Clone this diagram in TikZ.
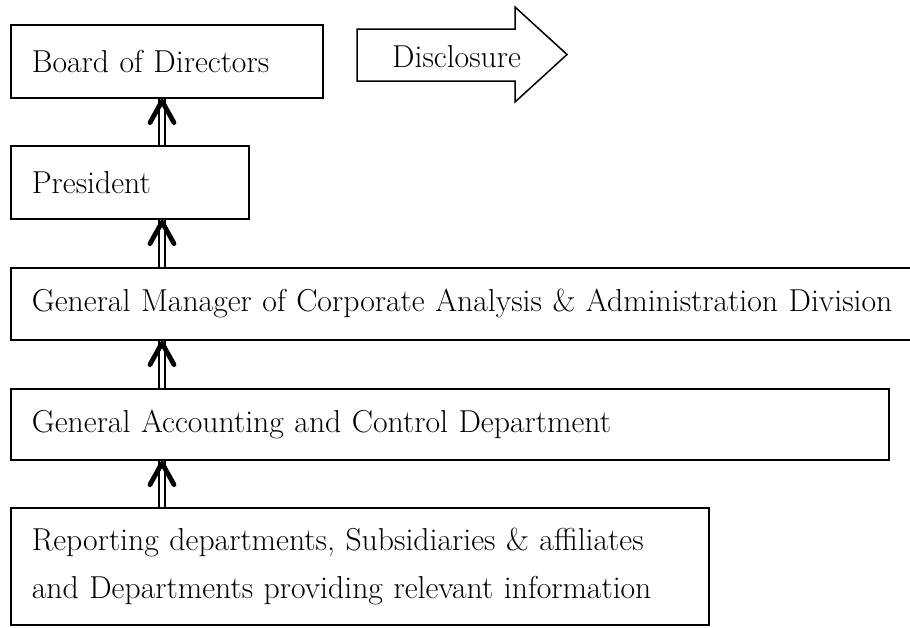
\documentclass[tikz,border=0pt]{standalone}
\usetikzlibrary{calc}
\newcommand\mainfnt{\fontsize{31.7}{48}\selectfont}
\tikzset{
  box/.style={draw, line width=1.6pt, anchor=north west, align=left,
    inner xsep=21pt, inner ysep=0pt, font=\mainfnt},
  shaft/.style={double, double distance=4.5pt, line width=1.4pt},
  headv/.style={line width=4.8pt, line cap=round, line join=round},
  outline/.style={draw, line width=1.5pt, line join=miter},
}
\newcommand\myUpArrow[2]{%
  \draw[shaft] (#1.north -| ax) -- (#2.south -| ax);
  \draw[headv] ([xshift=-12pt,yshift=-24pt]#2.south -| ax)
     -- ([yshift=-2.5pt]#2.south -| ax)
     -- ([xshift=12pt,yshift=-24pt]#2.south -| ax);
}
\begin{document}
\begin{tikzpicture}[x=1pt, y=-1pt]
  \useasboundingbox (0,0) rectangle (910,627);
  \clip (0,0) rectangle (910,627);
  \fill[white] (0,0) rectangle (910,627);
  \coordinate (ax) at (162,0);

  \node[box, text width=270pt, minimum height=73pt] (board) at (10,24) {Board of Directors};
  \node[box, text width=196pt, minimum height=73pt] (pres) at (10,145) {President};
  \node[box, text width=863pt, minimum height=72pt] (gm) at (10,267)
    {General Manager of Corporate Analysis \& Administration Division};
  \node[box, text width=836pt, minimum height=71pt] (ga) at (10,388)
    {General Accounting and Control Department};
  \node[box, text width=656pt, minimum height=117pt] (rep) at (10,507)
    {Reporting departments, Subsidiaries \& affiliates\\and Departments providing relevant information};

  % Disclosure arrow
  \draw[outline] (357,29) -- (515,29) -- (515,7) -- (567,54.5) -- (515,102)
     -- (515,81) -- (357,81) -- cycle;
  \node[anchor=base west, font=\mainfnt, inner sep=0pt] (disc) at (392,67) {Disclosure};

  \myUpArrow{pres}{board}
  \myUpArrow{gm}{pres}
  \myUpArrow{ga}{gm}
  \myUpArrow{rep}{ga}
\end{tikzpicture}
\end{document}
